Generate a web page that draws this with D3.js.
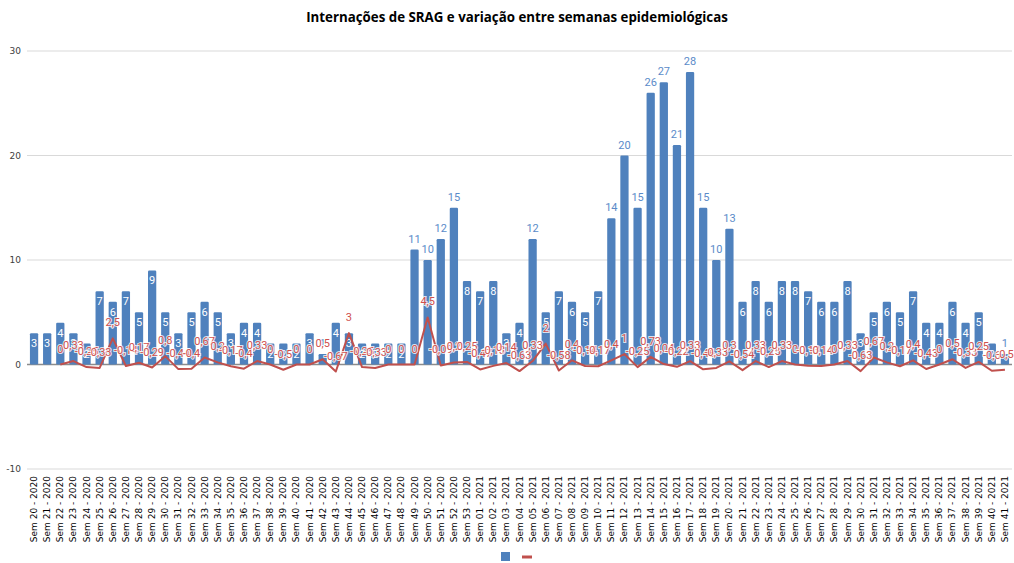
<!DOCTYPE html>
<html><head><meta charset="utf-8">
<script src="https://cdn.jsdelivr.net/npm/d3@7"></script>
<style>
body{margin:0;background:#fff;}
svg{display:block;}
</style></head>
<body>
<svg id="chart" width="1014" height="563"></svg>
<script>
const categories = [
 "Sem 20 - 2020","Sem 21 - 2020","Sem 22 - 2020","Sem 23 - 2020","Sem 24 - 2020","Sem 25 - 2020","Sem 26 - 2020","Sem 27 - 2020","Sem 28 - 2020","Sem 29 - 2020",
 "Sem 30 - 2020","Sem 31 - 2020","Sem 32 - 2020","Sem 33 - 2020","Sem 34 - 2020","Sem 35 - 2020","Sem 36 - 2020","Sem 37 - 2020","Sem 38 - 2020","Sem 39 - 2020",
 "Sem 40 - 2020","Sem 41 - 2020","Sem 42 - 2020","Sem 43 - 2020","Sem 44 - 2020","Sem 45 - 2020","Sem 46 - 2020","Sem 47 - 2020","Sem 48 - 2020","Sem 49 - 2020",
 "Sem 50 - 2020","Sem 51 - 2020","Sem 52 - 2020","Sem 53 - 2020","Sem 01 - 2021","Sem 02 - 2021","Sem 03 - 2021","Sem 04 - 2021","Sem 05 - 2021","Sem 06 - 2021",
 "Sem 07 - 2021","Sem 08 - 2021","Sem 09 - 2021","Sem 10 - 2021","Sem 11 - 2021","Sem 12 - 2021","Sem 13 - 2021","Sem 14 - 2021","Sem 15 - 2021","Sem 16 - 2021",
 "Sem 17 - 2021","Sem 18 - 2021","Sem 19 - 2021","Sem 20 - 2021","Sem 21 - 2021","Sem 22 - 2021","Sem 23 - 2021","Sem 24 - 2021","Sem 25 - 2021","Sem 26 - 2021",
 "Sem 27 - 2021","Sem 28 - 2021","Sem 29 - 2021","Sem 30 - 2021","Sem 31 - 2021","Sem 32 - 2021","Sem 33 - 2021","Sem 34 - 2021","Sem 35 - 2021","Sem 36 - 2021",
 "Sem 37 - 2021","Sem 38 - 2021","Sem 39 - 2021","Sem 40 - 2021","Sem 41 - 2021"
];
const internacoes = [
 3,3,4,3,2,7,6,7,5,9,
 5,3,5,6,5,3,4,4,2,2,
 2,3,1,4,3,2,2,2,2,11,
 10,12,15,8,7,8,3,4,12,5,
 7,6,5,7,14,20,15,26,27,21,
 28,15,10,13,6,8,6,8,8,7,
 6,6,8,3,5,6,5,7,4,4,
 6,4,5,2,1
];
const variacao = [
 null,null,0,0.33,-0.25,-0.33,2.5,-0.14,0.17,-0.29,
 0.8,-0.44,-0.4,0.67,0.2,-0.17,-0.4,0.33,0,-0.5,
 0,0,0.5,-0.67,3,-0.25,-0.33,0,0,0,
 4.5,-0.09,0.2,0.25,-0.47,-0.13,0.14,-0.63,0.33,2,
 -0.58,0.4,-0.14,-0.17,0.4,1,-0.25,0.73,0.04,-0.22,
 0.33,-0.46,-0.33,0.3,-0.54,0.33,-0.25,0.33,0,-0.13,
 -0.14,0,0.33,-0.63,0.67,0.2,-0.17,0.4,-0.43,0,
 0.5,-0.33,0.25,-0.6,-0.5
];
const yTicks = [-10,0,10,20,30];
const title = "Internações de SRAG e variação entre semanas epidemiológicas";

const svg = d3.select("#chart");
const blue = "#4f81bd", red = "#c0504d";

const x = d3.scaleBand().domain(categories).range([27.5, 1011.5]).paddingInner(0.37).paddingOuter(0.185);
const y = d3.scaleLinear().domain([-10, 30]).range([469, 51]);

svg.append("text").attr("x", 517).attr("y", 22).attr("text-anchor", "middle")
  .attr("font-family", "Open Sans, sans-serif").attr("font-weight", "bold").attr("font-size", 13.3)
  .attr("fill", "#000").text(title);

// gridlines
svg.append("g").selectAll("line").data(yTicks).join("line")
  .attr("x1", 27).attr("x2", 1012).attr("y1", d => y(d)).attr("y2", d => y(d))
  .attr("stroke", d => d === 0 ? "#8c8c8c" : "#d9d9d9").attr("stroke-width", d => d === 0 ? 1.5 : 1);

svg.append("g").selectAll("text").data(yTicks).join("text")
  .attr("x", 21).attr("y", d => y(d)).attr("dy", "0.35em").attr("text-anchor", "end")
  .attr("font-family", "DejaVu Sans, sans-serif").attr("font-size", 9).attr("fill", "#404040")
  .text(d => d);

// bars
svg.append("g").selectAll("rect").data(internacoes).join("rect")
  .attr("x", (d, i) => x(categories[i])).attr("width", x.bandwidth())
  .attr("y", d => y(d)).attr("height", d => y(0) - y(d))
  .attr("rx", 1.2).attr("fill", blue);

// bar labels
const outside = d => d >= 10 || d < 2;
svg.append("g").selectAll("text").data(internacoes).join("text")
  .attr("x", (d, i) => x(categories[i]) + x.bandwidth() / 2)
  .attr("y", d => outside(d) ? y(d) - 7 : y(d) + 14)
  .attr("text-anchor", "middle")
  .attr("font-family", "Roboto, sans-serif").attr("font-size", 11)
  .attr("fill", d => outside(d) ? "#5b8bc9" : "#ffffff")
  .text(d => d);

// line
const line = d3.line()
  .defined(d => d != null)
  .x((d, i) => x(categories[i]) + x.bandwidth() / 2)
  .y(d => y(d));
svg.append("path").datum(variacao).attr("d", line)
  .attr("fill", "none").attr("stroke", red).attr("stroke-width", 2).attr("stroke-linejoin", "round");

const fmt = v => String(Math.round(v * 100) / 100).replace(".", ",");
svg.append("g").selectAll("text").data(variacao.map((v, i) => ({v, i})).filter(d => d.v != null)).join("text")
  .attr("x", d => x(categories[d.i]) + x.bandwidth() / 2)
  .attr("y", d => y(d.v) - 12)
  .attr("text-anchor", "middle")
  .attr("font-family", "Roboto, sans-serif").attr("font-size", 11)
  .attr("fill", "#d0504d").attr("stroke", "#ffffff").attr("stroke-width", 2)
  .attr("paint-order", "stroke").attr("stroke-opacity", 0.8)
  .text(d => fmt(d.v));

// x labels
svg.append("g").selectAll("text").data(categories).join("text")
  .attr("transform", d => `translate(${x(d) + x.bandwidth() / 2 + 3},476) rotate(-90)`)
  .attr("text-anchor", "end")
  .attr("font-family", "DejaVu Sans, sans-serif").attr("font-size", 9).attr("fill", "#000")
  .text(d => d);

// legend
svg.append("rect").attr("x", 501).attr("y", 552).attr("width", 9).attr("height", 9).attr("fill", blue);
svg.append("line").attr("x1", 522).attr("x2", 532).attr("y1", 557).attr("y2", 557).attr("stroke", red).attr("stroke-width", 3);
</script>
</body></html>
